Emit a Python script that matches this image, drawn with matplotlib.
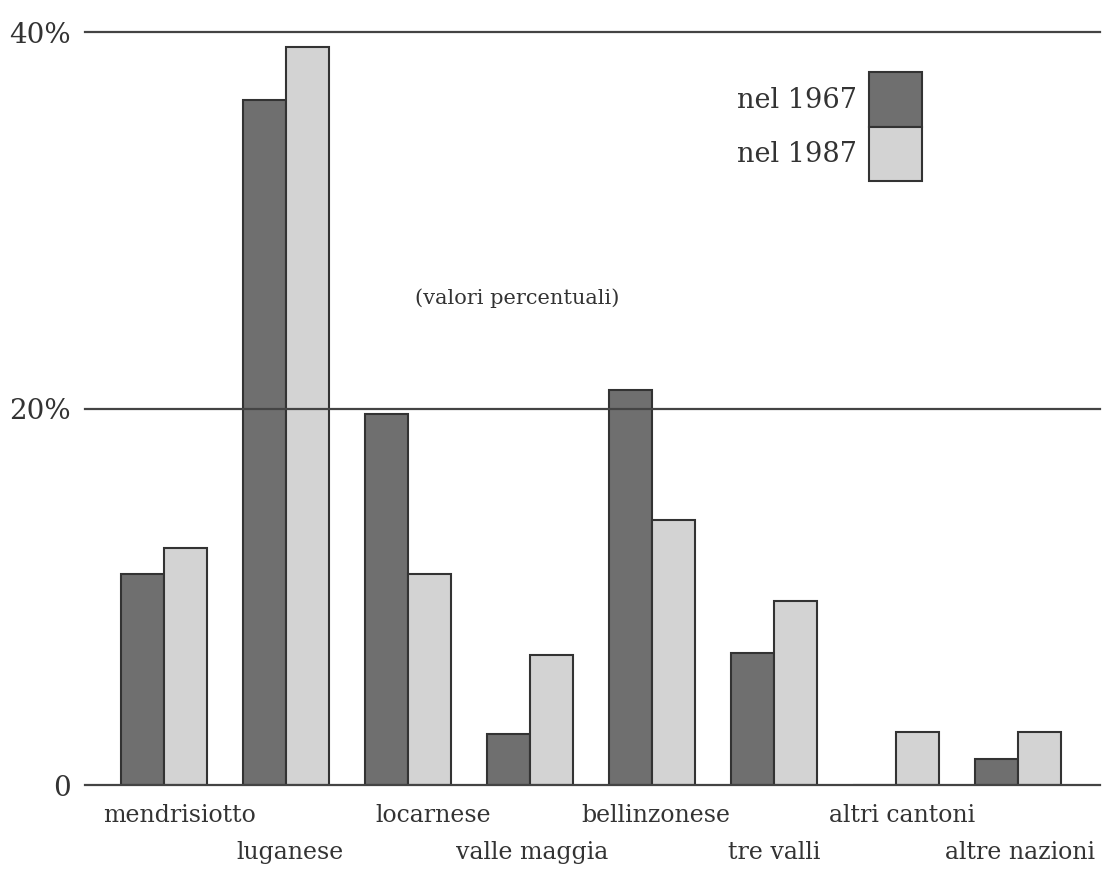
import matplotlib
matplotlib.use("Agg")
import matplotlib.pyplot as plt
from matplotlib.patches import Rectangle

# regions of origin, values in percent
regions = ["mendrisiotto", "luganese", "locarnese", "valle maggia",
           "bellinzonese", "tre valli", "altri cantoni", "altre nazioni"]
share_1967 = [11.2, 36.4, 19.7, 2.7, 21.0, 7.0, 0.0, 1.4]
share_1987 = [12.6, 39.2, 11.2, 6.9, 14.1, 9.8, 2.8, 2.8]
year_labels = ["nel 1967", "nel 1987"]
y_ticks = [0, 20, 40]
y_tick_labels = ["0", "20%", "40%"]

dark = "#6f6f6f"
light = "#d3d3d3"
ink = "#333333"
serif = ["DejaVu Serif"]

fig = plt.figure(figsize=(11.04, 8.73), dpi=100)
ax = fig.add_axes([0.077, 0.1008, 0.919, 0.8625])

x = list(range(len(regions)))
w = 0.352
ax.bar([i - w / 2 for i in x], share_1967, width=w, color=dark,
       edgecolor=ink, linewidth=1.5, zorder=2)
ax.bar([i + w / 2 for i in x], share_1987, width=w, color=light,
       edgecolor=ink, linewidth=1.5, zorder=2)

for y in y_ticks:
    ax.axhline(y, color="#444444", linewidth=1.6, zorder=3, clip_on=False)

ax.set_xlim(-0.648, 7.672)
ax.set_ylim(0, 40)
for s in ax.spines.values():
    s.set_visible(False)
ax.set_xticks([])
ax.set_yticks(y_ticks)
ax.set_yticklabels(y_tick_labels, family=serif, fontsize=20, color=ink)
ax.tick_params(axis="y", length=0, pad=10)

# two staggered rows of region names
label_shift = [0.13, 0.03, 0.21, 0.02, 0.03, 0.0, 0.05, 0.02]
for i, name in enumerate(regions):
    row_y = -1.6 if i % 2 == 0 else -3.6
    ax.text(i + label_shift[i], row_y, name, ha="center", va="center",
            family=serif, fontsize=17, color=ink, clip_on=False)

# hand-made legend
ax.add_patch(Rectangle((0.773, 0.874), 0.052, 0.073, transform=ax.transAxes,
                       facecolor=dark, edgecolor=ink, linewidth=1.5, zorder=4))
ax.add_patch(Rectangle((0.773, 0.802), 0.052, 0.072, transform=ax.transAxes,
                       facecolor=light, edgecolor=ink, linewidth=1.5, zorder=4))
ax.text(0.761, 0.9097, year_labels[0], transform=ax.transAxes, ha="right",
        va="center", family=serif, fontsize=19.5, color=ink)
ax.text(0.761, 0.8367, year_labels[1], transform=ax.transAxes, ha="right",
        va="center", family=serif, fontsize=19.5, color=ink)

ax.text(0.4256, 0.6467, "(valori percentuali)", transform=ax.transAxes,
        ha="center", va="center", family=serif, fontsize=15, color=ink)

fig.savefig("out.png", dpi=100)
